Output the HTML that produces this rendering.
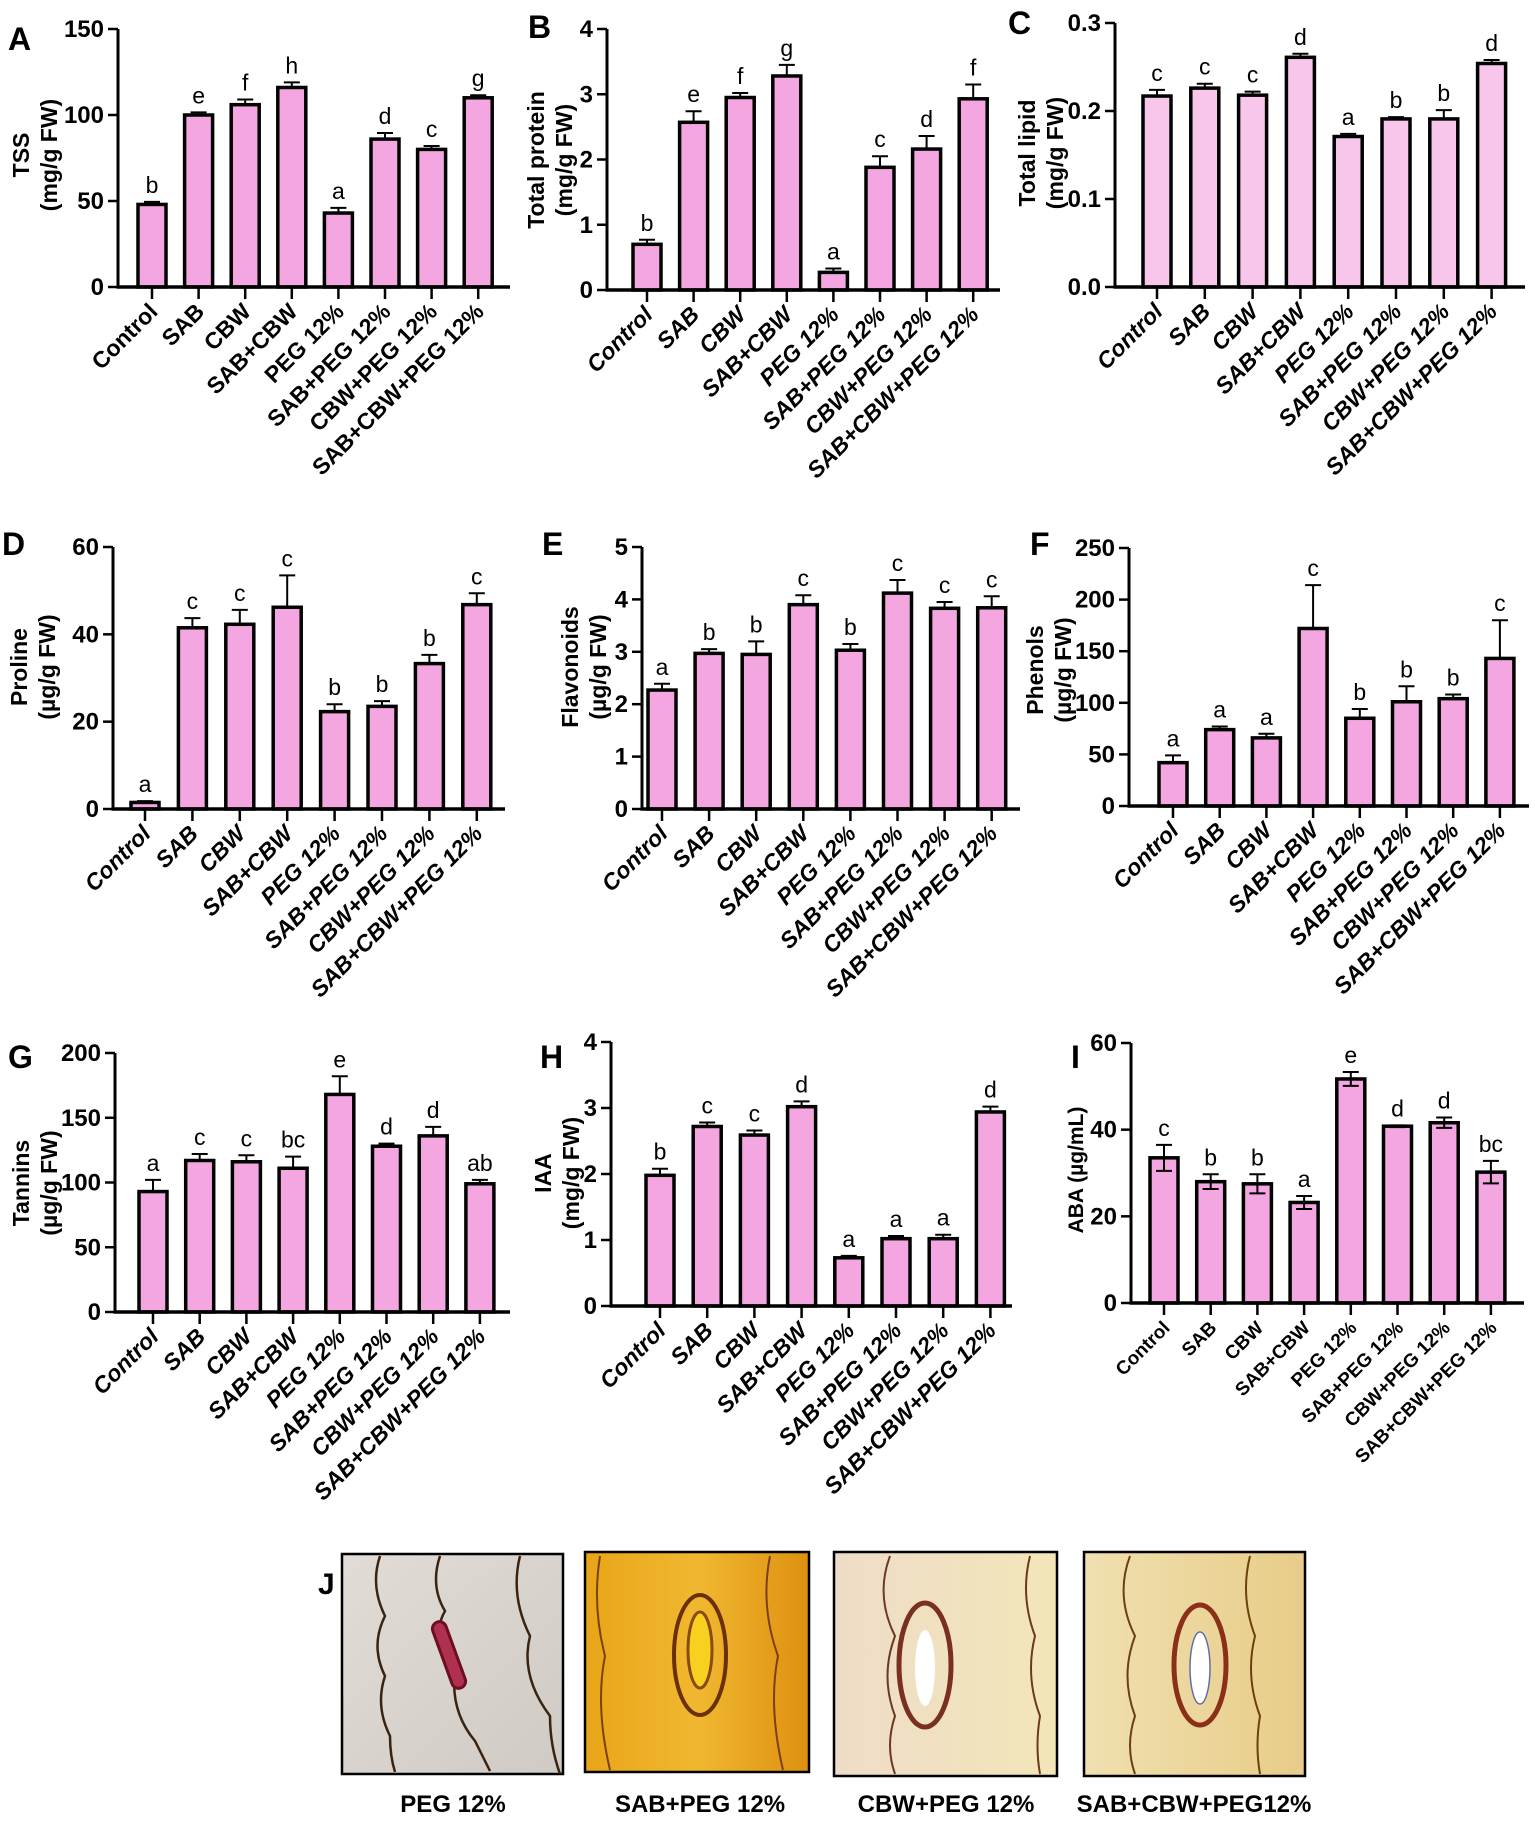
<!DOCTYPE html>
<html><head><meta charset="utf-8"><style>
body{margin:0;background:#fff;}
svg{display:block;font-family:"Liberation Sans",Arial,sans-serif;}
</style></head><body>
<svg id="fig" width="1535" height="1822" viewBox="0 0 1535 1822" xmlns="http://www.w3.org/2000/svg">
<defs>
<linearGradient id="g1" x1="0" y1="0" x2="1" y2="1"><stop offset="0" stop-color="#e2dcd6"/><stop offset="1" stop-color="#cfcac4"/></linearGradient>
<linearGradient id="g2" x1="0" y1="0" x2="1" y2="0"><stop offset="0" stop-color="#e9a418"/><stop offset="0.5" stop-color="#f0b830"/><stop offset="1" stop-color="#de9010"/></linearGradient>
<linearGradient id="g3" x1="0" y1="0" x2="1" y2="0"><stop offset="0" stop-color="#efdcc8"/><stop offset="1" stop-color="#f2e6b8"/></linearGradient>
<linearGradient id="g4" x1="0" y1="0" x2="1" y2="0"><stop offset="0" stop-color="#f0e0b0"/><stop offset="1" stop-color="#e8cc88"/></linearGradient>
</defs>
<g id="charts"></g>
<g id="panelJ">
<text x="318" y="1594" font-size="30" font-weight="bold">J</text>
<g>
<rect x="342" y="1554" width="221" height="220" fill="url(#g1)" stroke="#000" stroke-width="2.5"/>
<path d="M380 1556 q-10 30 5 60 q-15 30 0 60 q-10 30 5 60 q0 20 5 36 M440 1556 q-10 30 5 55 q-15 25 10 60 q-5 40 20 70 q10 20 15 30 M520 1556 q-10 40 10 80 q-10 40 20 80 q0 30 10 58" fill="none" stroke="#3a2410" stroke-width="2.5"/>
<rect x="442" y="1620" width="14" height="70" rx="7" transform="rotate(-20 449 1655)" fill="#b03050" stroke="#6a1020" stroke-width="3"/>
</g>
<g>
<rect x="585" y="1552" width="224" height="220" fill="url(#g2)" stroke="#000" stroke-width="2.5"/>
<path d="M600 1556 q-8 50 5 100 q-10 50 5 114 M770 1556 q-10 50 8 100 q-10 50 5 114" fill="none" stroke="#7a4010" stroke-width="2"/>
<ellipse cx="700" cy="1655" rx="26" ry="60" fill="none" stroke="#6a3008" stroke-width="4"/>
<ellipse cx="700" cy="1650" rx="12" ry="38" fill="#f8d020" stroke="#8a4a10" stroke-width="3"/>
</g>
<g>
<rect x="834" y="1552" width="223" height="224" fill="url(#g3)" stroke="#000" stroke-width="2.5"/>
<path d="M890 1556 q-15 40 5 80 q-15 40 0 80 q-10 30 0 58 M1030 1556 q-10 40 5 80 q-10 40 5 80 q-5 30 0 58" fill="none" stroke="#6a3a20" stroke-width="2"/>
<ellipse cx="925" cy="1665" rx="26" ry="62" fill="none" stroke="#7a3020" stroke-width="5"/>
<ellipse cx="925" cy="1668" rx="10" ry="38" fill="#fff"/>
</g>
<g>
<rect x="1084" y="1552" width="221" height="224" fill="url(#g4)" stroke="#000" stroke-width="2.5"/>
<path d="M1130 1556 q-15 40 5 80 q-15 40 0 80 q-10 30 0 58 M1250 1556 q-10 40 5 80 q-10 40 5 80 q-5 30 0 58" fill="none" stroke="#6a4010" stroke-width="2"/>
<ellipse cx="1200" cy="1665" rx="26" ry="60" fill="none" stroke="#8a3018" stroke-width="5"/>
<ellipse cx="1200" cy="1668" rx="10" ry="36" fill="#fff" stroke="#6070a0" stroke-width="1.5"/>
</g>
<g font-size="24" font-weight="bold" text-anchor="middle">
<text x="453" y="1812">PEG 12%</text>
<text x="700" y="1812">SAB+PEG 12%</text>
<text x="946" y="1812">CBW+PEG 12%</text>
<text x="1194" y="1812">SAB+CBW+PEG12%</text>
</g>
</g>
</svg>
<script>
const categories = ["Control","SAB","CBW","SAB+CBW","PEG 12%","SAB+PEG 12%","CBW+PEG 12%","SAB+CBW+PEG 12%"];

const valsA = [48,100,106,116,43,86,80,110];
const errsA = [1.5,1.5,3,3,3,3.5,2,1.5];
const sigA = ["b","e","f","h","a","d","c","g"];
const ticksA = [0,50,100,150];

const valsB = [0.70,2.57,2.95,3.28,0.27,1.88,2.16,2.93];
const errsB = [0.07,0.17,0.07,0.17,0.06,0.17,0.2,0.22];
const sigB = ["b","e","f","g","a","c","d","f"];
const ticksB = [0,1,2,3,4];

const valsC = [0.217,0.226,0.218,0.261,0.171,0.191,0.191,0.254];
const errsC = [0.007,0.005,0.004,0.004,0.003,0.002,0.01,0.004];
const sigC = ["c","c","c","d","a","b","b","d"];
const ticksC = [0,0.1,0.2,0.3];

const valsD = [1.5,41.5,42.3,46.2,22.3,23.5,33.3,46.8];
const errsD = [0.3,2.2,3.3,7.3,1.7,1.2,2,2.6];
const sigD = ["a","c","c","c","b","b","b","c"];
const ticksD = [0,20,40,60];

const valsE = [2.27,2.97,2.95,3.9,3.03,4.12,3.83,3.84];
const errsE = [0.12,0.08,0.25,0.18,0.12,0.25,0.12,0.22];
const sigE = ["a","b","b","c","b","c","c","c"];
const ticksE = [0,1,2,3,4,5];

const valsF = [42,74,66,172,85,101,104,143];
const errsF = [7,3,4,42,9,15,4,37];
const sigF = ["a","a","a","c","b","b","b","c"];
const ticksF = [0,50,100,150,200,250];

const valsG = [93,117,116,111,168,128,136,99];
const errsG = [9,5,5,9,14,2,7,3];
const sigG = ["a","c","c","bc","e","d","d","ab"];
const ticksG = [0,50,100,150,200];

const valsH = [1.98,2.72,2.59,3.02,0.73,1.02,1.02,2.94];
const errsH = [0.1,0.06,0.07,0.08,0.03,0.04,0.06,0.08];
const sigH = ["b","c","c","d","a","a","a","d"];
const ticksH = [0,1,2,3,4];

const valsI = [33.5,28,27.5,23.2,51.7,40.8,41.6,30.2];
const errsI = [3,1.7,2.2,1.5,1.6,0.2,1.2,2.6];
const sigI = ["c","b","b","a","e","d","d","bc"];
const ticksI = [0,20,40,60];

const NS = "http://www.w3.org/2000/svg";
const root = document.getElementById("charts");
function mk(tag, attrs, parent){
  const e = document.createElementNS(NS, tag);
  for (const k in attrs) e.setAttribute(k, attrs[k]);
  parent.appendChild(e);
  return e;
}
function panel(p){
  const g = mk("g", {}, root);
  
  
  const y = v => p.y0 - (v - 0) / p.max * (p.y0 - p.yTop);
  const x = i => p.cx0 + i * p.dx;
  const L = mk("text", {x:p.lx, y:p.ly, "font-size":32, "font-weight":"bold"}, g);
  L.textContent = p.id.toUpperCase();
  
  
  const tg = mk("g", {transform:"translate(" + (p.ax) + "," + p.tyc + ") rotate(-90)"}, g);
  
  
  p.title.forEach((t, k) => {
    const tt = mk("text", {x:0, y:p.toff[k], "font-size":p.tfs || 23, "font-weight":"bold", "text-anchor":"middle"}, tg);
    tt.textContent = t;
  });
  p.vals.forEach((v, i) => {
    const cx = x(i), top = y(v), bw = 28;
    const r = mk("rect", {x:cx - bw/2, y:top, width:bw, height:p.y0 - top, fill:p.fill, stroke:"#000", "stroke-width":3.5}, g);
    
    
    const et = y(v + p.errs[i]);
    const eb = p.two ? y(v - p.errs[i]) : top;
    const e1 = mk("path", {d:"M" + cx + " " + eb + "V" + et + "M" + (cx - 8) + " " + et + "H" + (cx + 8) + (p.two ? "M" + (cx - 8) + " " + eb + "H" + (cx + 8) : ""), stroke:"#000", "stroke-width":2, fill:"none"}, g);
    
    
    const s = mk("text", {x:cx, y:et - 9, "font-size":23, "text-anchor":"middle"}, g);
    s.textContent = p.sig[i];
    
    
    const tk = mk("line", {x1:cx, x2:cx, y1:p.y0, y2:p.y0 + 12, stroke:"#000", "stroke-width":2.5}, g);
    
    
    const lx = cx + 7, ly = p.y0 + 26;
    const lab = mk("text", {x:lx, y:ly, "font-size":p.lfs, "font-weight":"bold", "text-anchor":"end", "font-style":p.ital ? "italic" : "normal", transform:"rotate(-45 " + lx + " " + ly + ")"}, g);
    lab.textContent = categories[i];
    
    
  });
  const ya = mk("line", {x1:p.ax, x2:p.ax, y1:p.yTop, y2:p.y0 + 1.5, stroke:"#000", "stroke-width":3}, g);
  
  
  const xa = mk("line", {x1:p.ax - 1.5, x2:p.xEnd, y1:p.y0, y2:p.y0, stroke:"#000", "stroke-width":3.5}, g);
  
  
  p.ticks.forEach(t => {
    const ty = y(t);
    const tl = mk("line", {x1:p.ax - 10, x2:p.ax, y1:ty, y2:ty, stroke:"#000", "stroke-width":2.5}, g);
    
    
    const tx = mk("text", {x:p.ax - 14, y:ty + 8, "font-size":24, "font-weight":"bold", "text-anchor":"end"}, g);
    tx.textContent = p.dec ? t.toFixed(1) : String(t);
    
    
  });
}
const pink = "#f4a6e0";
panel({id:"a", vals:valsA, errs:errsA, sig:sigA, ticks:ticksA, max:150, ax:118, y0:287, yTop:29, cx0:152, dx:46.6, xEnd:510, fill:pink, title:["TSS","(mg/g FW)"], toff:[-89,-61], tyc:155, lx:8, ly:50, lfs:23, ital:false});
panel({id:"b", vals:valsB, errs:errsB, sig:sigB, ticks:ticksB, max:4, ax:607, y0:290, yTop:29, cx0:647, dx:46.6, xEnd:1000, fill:pink, title:["Total protein","(mg/g FW)"], toff:[-63,-35], tyc:160, lx:528, ly:38, lfs:23, ital:true});
panel({id:"c", vals:valsC, errs:errsC, sig:sigC, ticks:ticksC, max:0.3, ax:1115, y0:287, yTop:23, cx0:1157, dx:47.8, xEnd:1525, fill:"#f8c6ea", title:["Total lipid","(mg/g FW)"], toff:[-80,-52], tyc:153, lx:1008, ly:34, lfs:23, ital:true, dec:true});
panel({id:"d", vals:valsD, errs:errsD, sig:sigD, ticks:ticksD, max:60, ax:113, y0:809, yTop:547, cx0:145, dx:47.4, xEnd:505, fill:pink, title:["Proline","(µg/g FW)"], toff:[-86,-58], tyc:667, lx:2, ly:555, lfs:23, ital:true});
panel({id:"e", vals:valsE, errs:errsE, sig:sigE, ticks:ticksE, max:5, ax:642, y0:809, yTop:547, cx0:662, dx:47.1, xEnd:1020, fill:pink, title:["Flavonoids","(µg/g FW)"], toff:[-64,-36], tyc:667, lx:542, ly:555, lfs:23, ital:true});
panel({id:"f", vals:valsF, errs:errsF, sig:sigF, ticks:ticksF, max:250, ax:1129, y0:806, yTop:548, cx0:1173, dx:46.7, xEnd:1529, fill:pink, title:["Phenols","(µg/g FW)"], toff:[-86,-58], tyc:670, lx:1030, ly:555, lfs:23, ital:true});
panel({id:"g", vals:valsG, errs:errsG, sig:sigG, ticks:ticksG, max:200, ax:115, y0:1312, yTop:1053, cx0:153, dx:46.7, xEnd:510, fill:pink, title:["Tannins","(µg/g FW)"], toff:[-86,-58], tyc:1183, lx:8, ly:1068, lfs:23, ital:true});
panel({id:"h", vals:valsH, errs:errsH, sig:sigH, ticks:ticksH, max:4, ax:611, y0:1306, yTop:1042, cx0:660, dx:47.2, xEnd:1012, fill:pink, title:["IAA","(mg/g FW)"], toff:[-60,-32], tyc:1173, lx:540, ly:1068, lfs:23, ital:true});
panel({id:"i", vals:valsI, errs:errsI, sig:sigI, ticks:ticksI, max:60, ax:1131, y0:1303, yTop:1043, cx0:1164, dx:46.7, xEnd:1524, fill:pink, title:["ABA (µg/mL)"], toff:[-48], tyc:1170, tfs:21, lx:1071, ly:1068, lfs:19, ital:false, two:true});
</script>
</body></html>
